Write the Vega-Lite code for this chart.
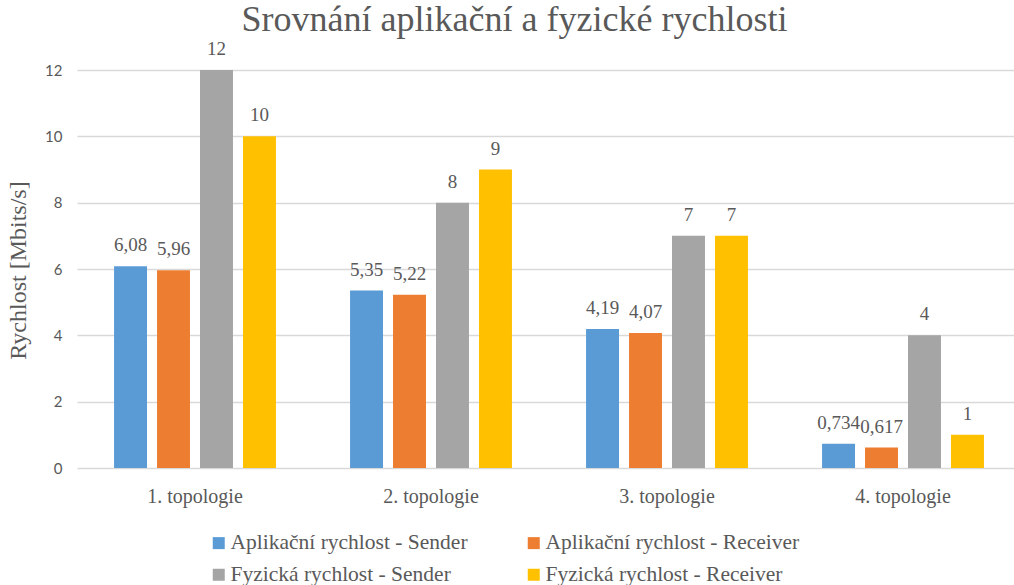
{
  "$schema": "https://vega.github.io/schema/vega-lite/v6.json",
  "autosize": {"type": "none"},
  "width": 937,
  "height": 398,
  "padding": {"left": 77, "top": 70, "right": 0, "bottom": 117},
  "background": "white",
  "title": {
    "text": "Srovnání aplikační a fyzické rychlosti",
    "font": "Liberation Serif",
    "fontSize": 36,
    "fontWeight": "normal",
    "color": "#595959",
    "anchor": "middle",
    "frame": "group",
    "dx": -31,
    "baseline": "alphabetic",
    "offset": 0,
    "dy": 27
  },
  "data": {
    "values": [
      {"topologie": "1. topologie", "serie": "Aplikační rychlost - Sender", "rychlost": 6.08},
      {"topologie": "1. topologie", "serie": "Aplikační rychlost - Receiver", "rychlost": 5.96},
      {"topologie": "1. topologie", "serie": "Fyzická rychlost - Sender", "rychlost": 12},
      {"topologie": "1. topologie", "serie": "Fyzická rychlost - Receiver", "rychlost": 10},
      {"topologie": "2. topologie", "serie": "Aplikační rychlost - Sender", "rychlost": 5.35},
      {"topologie": "2. topologie", "serie": "Aplikační rychlost - Receiver", "rychlost": 5.22},
      {"topologie": "2. topologie", "serie": "Fyzická rychlost - Sender", "rychlost": 8},
      {"topologie": "2. topologie", "serie": "Fyzická rychlost - Receiver", "rychlost": 9},
      {"topologie": "3. topologie", "serie": "Aplikační rychlost - Sender", "rychlost": 4.19},
      {"topologie": "3. topologie", "serie": "Aplikační rychlost - Receiver", "rychlost": 4.07},
      {"topologie": "3. topologie", "serie": "Fyzická rychlost - Sender", "rychlost": 7},
      {"topologie": "3. topologie", "serie": "Fyzická rychlost - Receiver", "rychlost": 7},
      {"topologie": "4. topologie", "serie": "Aplikační rychlost - Sender", "rychlost": 0.734},
      {"topologie": "4. topologie", "serie": "Aplikační rychlost - Receiver", "rychlost": 0.617},
      {"topologie": "4. topologie", "serie": "Fyzická rychlost - Sender", "rychlost": 4},
      {"topologie": "4. topologie", "serie": "Fyzická rychlost - Receiver", "rychlost": 1}
    ]
  },
  "encoding": {
    "x": {
      "field": "topologie",
      "type": "nominal",
      "scale": {"range": [0, 944], "paddingInner": 0.314, "paddingOuter": 0.157},
      "axis": {
        "title": null,
        "labelAngle": 0,
        "domain": false,
        "ticks": false,
        "grid": false,
        "labelFont": "Liberation Serif",
        "labelFontSize": 20,
        "labelColor": "#595959",
        "labelPadding": 18
      }
    },
    "xOffset": {
      "field": "serie",
      "type": "nominal",
      "sort": ["Aplikační rychlost - Sender", "Aplikační rychlost - Receiver", "Fyzická rychlost - Sender", "Fyzická rychlost - Receiver"],
      "scale": {"paddingInner": 0.233, "paddingOuter": 0}
    },
    "y": {
      "field": "rychlost",
      "type": "quantitative",
      "scale": {"domain": [0, 12], "nice": false},
      "axis": {
        "title": "Rychlost [Mbits/s]",
        "titleFont": "Liberation Serif",
        "titleFontSize": 24,
        "titleFontWeight": "normal",
        "titleColor": "#595959",
        "titleX": -59,
        "titleY": 200,
        "titleAlign": "center",
        "titleBaseline": "middle",
        "titleAngle": -90,
        "values": [0, 2, 4, 6, 8, 10, 12],
        "domain": false,
        "ticks": false,
        "labelFont": "Lato",
        "labelFontSize": 15,
        "labelColor": "#595959",
        "labelPadding": 15,
        "gridColor": "#d9d9d9",
        "gridWidth": 1.3
      }
    }
  },
  "layer": [
    {
      "mark": {"type": "bar"},
      "encoding": {
        "color": {
          "field": "serie",
          "type": "nominal",
          "sort": ["Aplikační rychlost - Sender", "Aplikační rychlost - Receiver", "Fyzická rychlost - Sender", "Fyzická rychlost - Receiver"],
          "scale": {
            "domain": ["Aplikační rychlost - Sender", "Aplikační rychlost - Receiver", "Fyzická rychlost - Sender", "Fyzická rychlost - Receiver"],
            "range": ["#5B9BD5", "#ED7D31", "#A5A5A5", "#FFC000"]
          },
          "legend": {
            "title": null,
            "orient": "none",
            "legendX": 131,
            "legendY": 462,
            "direction": "horizontal",
            "columns": 2,
            "columnPadding": 55,
            "rowPadding": 9,
            "padding": 0,
            "symbolType": "square",
            "symbolSize": 144,
            "symbolStrokeWidth": 0,
            "labelOffset": 1,
            "labelFont": "Liberation Serif",
            "labelFontSize": 21.5,
            "labelColor": "#595959",
            "labelLimit": 400
          }
        }
      }
    },
    {
      "mark": {"type": "text", "baseline": "alphabetic", "dy": -15, "font": "Liberation Serif", "fontSize": 19, "color": "#595959"},
      "encoding": {
        "text": {"field": "rychlost", "type": "quantitative", "format": "~g"}
      }
    }
  ],
  "config": {
    "view": {"stroke": null},
    "locale": {
      "number": {"decimal": ",", "thousands": " ", "grouping": [3], "currency": ["", " Kč"]}
    }
  }
}
